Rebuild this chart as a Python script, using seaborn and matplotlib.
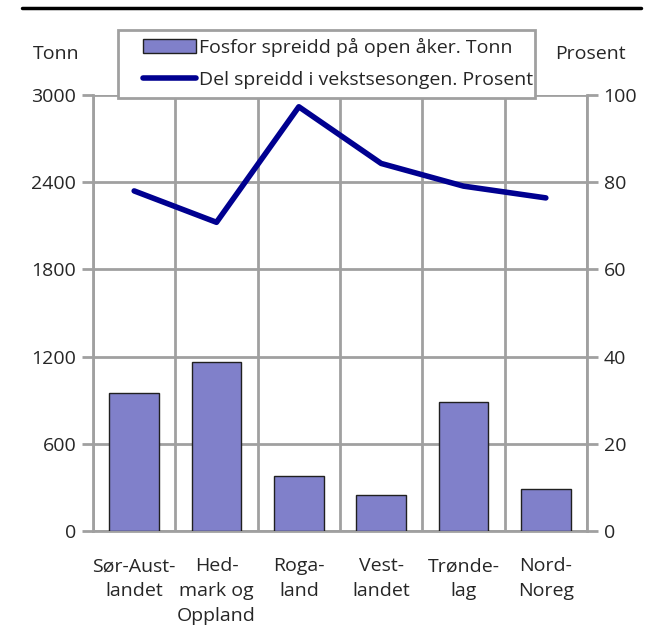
import matplotlib
matplotlib.use("Agg")
import matplotlib.pyplot as plt
import seaborn as sns
import pandas as pd
import numpy as np
from matplotlib.lines import Line2D
from matplotlib.patches import Patch, Rectangle

categories = ["Sør-Aust-\nlandet", "Hed-\nmark og\nOppland", "Roga-\nland", "Vest-\nlandet", "Trønde-\nlag", "Nord-\nNoreg"]
fosfor_tonn = [947, 1165, 376, 250, 890, 291]
del_prosent = [78.0, 70.8, 97.3, 84.3, 79.1, 76.4]
left_ticks = [0, 600, 1200, 1800, 2400, 3000]
right_ticks = [0, 20, 40, 60, 80, 100]

sns.set_theme(style="white")
plt.rcParams['font.family'] = ['Open Sans', 'DejaVu Sans']
FS = 14

fig = plt.figure(figsize=(6.63, 6.31), dpi=100)
ax = fig.add_axes([93/663, 1-531/631, (587-93)/663, (531-95)/631])

df = pd.DataFrame({"kat": categories, "tonn": fosfor_tonn, "pst": del_prosent})
bar_color = "#8080CA"
line_color = "#000090"
grid_color = "#A0A0A0"

sns.barplot(data=df, x="kat", y="tonn", ax=ax, color=bar_color, width=0.6,
            edgecolor="#202020", linewidth=1.0, saturation=1, zorder=3)
ax.set_xlim(-0.5, 5.5)
ax.set_ylim(0, 3000)
ax.set_yticks(left_ticks)
ax.set_yticklabels([str(t) for t in left_ticks], fontsize=FS)
ax.set_xticks(range(len(categories)))
ax.set_xticklabels(categories, fontsize=FS, linespacing=1.5)
ax.tick_params(axis="x", which="major", length=0, pad=19)
ax.set_xticks(np.arange(-0.5, 6, 1), minor=True)
ax.tick_params(axis="x", which="minor", length=6, color=grid_color, width=2, direction="out")
ax.tick_params(axis="y", which="major", length=8, color=grid_color, width=2, direction="out", labelsize=FS, pad=4)
ax.grid(True, axis="y", which="major", color=grid_color, linewidth=2, zorder=0)
ax.grid(True, axis="x", which="minor", color=grid_color, linewidth=2, zorder=0)
ax.set_axisbelow(True)
ax.set_xlabel("")
ax.set_ylabel("")
for s in ["left", "right", "bottom"]:
    ax.spines[s].set_color(grid_color)
    ax.spines[s].set_linewidth(2)
ax.spines["top"].set_visible(False)

ax2 = ax.twinx()
sns.lineplot(x=list(range(len(categories))), y=del_prosent, ax=ax2, color=line_color, linewidth=4, zorder=4)
ax2.set_ylim(0, 100)
ax2.set_yticks(right_ticks)
ax2.set_yticklabels([str(t) for t in right_ticks], fontsize=FS)
ax2.tick_params(axis="y", length=8, color=grid_color, width=2, direction="out", labelsize=FS, pad=4)
ax2.grid(False)
for s in ["left", "right", "bottom", "top"]:
    ax2.spines[s].set_visible(False)
ax2.set_ylabel("")

fig.text(33/663, 1-54/631, "Tonn", fontsize=FS, ha="left", va="center")
fig.text(626/663, 1-54/631, "Prosent", fontsize=FS, ha="right", va="center")

# legend frame
fig.add_artist(Rectangle((118/663, 1-98/631), (535-118)/663, (98-30)/631,
                         transform=fig.transFigure, facecolor="white",
                         edgecolor=grid_color, linewidth=2, zorder=5))
handles = [Patch(facecolor=bar_color, edgecolor="#202020", linewidth=1.0),
           Line2D([0], [0], color=line_color, linewidth=4)]
labels = ["Fosfor spreidd på open åker. Tonn", "Del spreidd i vekstsesongen. Prosent"]
leg = fig.legend(handles, labels, loc="upper left", bbox_to_anchor=(143/663, 1-38/631),
                 fontsize=FS, frameon=False, handlelength=2.75, handletextpad=0.15,
                 borderpad=0, labelspacing=0.7, borderaxespad=0)
leg.set_zorder(6)

fig.add_artist(Line2D([22/663, 641/663], [1-8/631, 1-8/631], color="black", linewidth=2.5))

fig.savefig("out.png", dpi=100)
